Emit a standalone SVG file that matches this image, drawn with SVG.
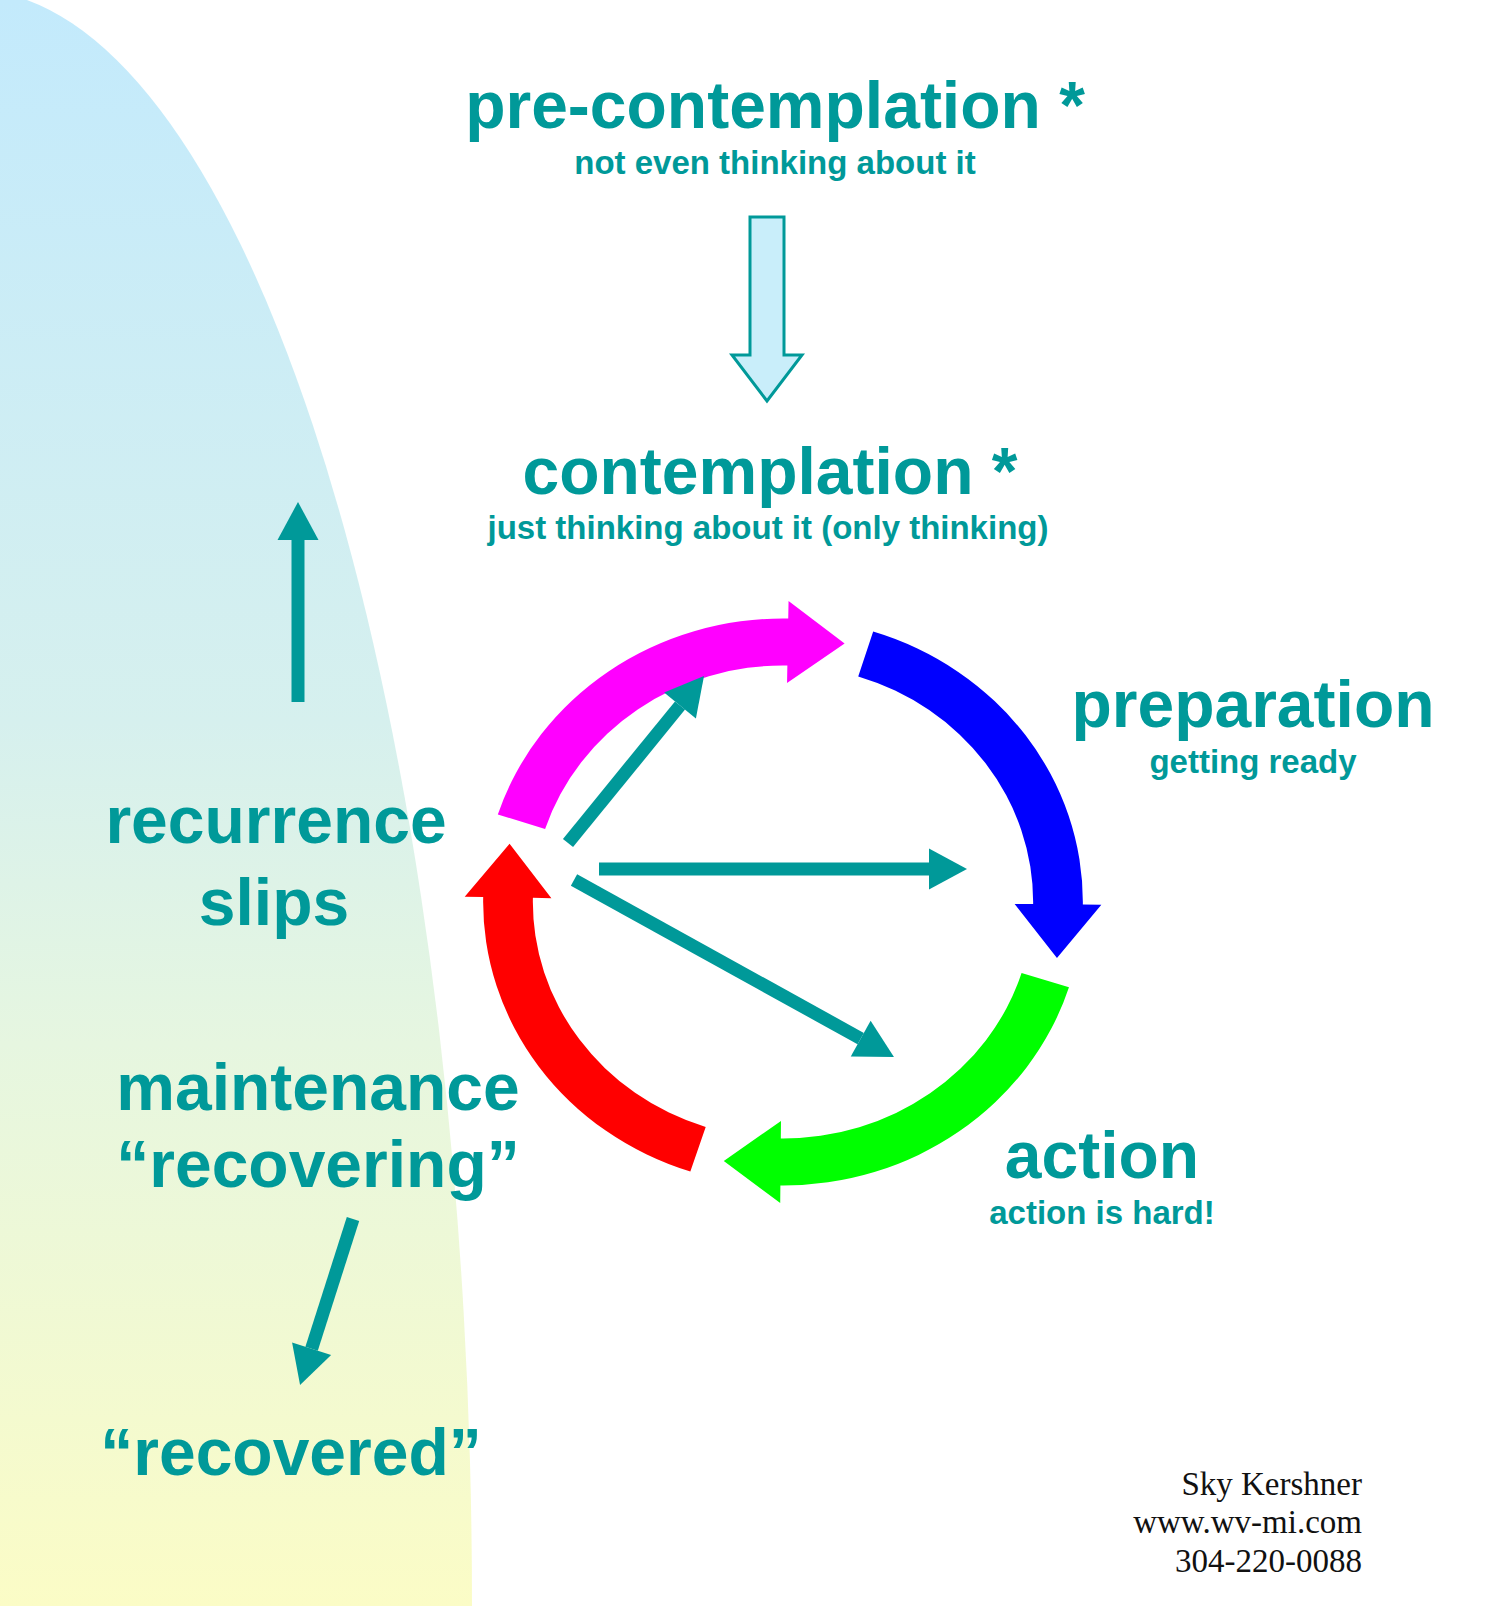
<svg xmlns="http://www.w3.org/2000/svg" xmlns:xlink="http://www.w3.org/1999/xlink" width="1500" height="1606" viewBox="0 0 1500 1606">
<defs>
<linearGradient id="bgGrad" x1="0" y1="0" x2="0" y2="1">
<stop offset="0" stop-color="#c3eafc"/>
<stop offset="0.45" stop-color="#d6f0ee"/>
<stop offset="0.65" stop-color="#e6f6e0"/>
<stop offset="1" stop-color="#fbfcc6"/>
</linearGradient>
<marker id="head" markerUnits="userSpaceOnUse" markerWidth="38" markerHeight="41" refX="0" refY="20.5" orient="auto" overflow="visible">
<path d="M0,0 L38,20.5 L0,41 Z" fill="#009999"/>
</marker>
<path id="ringArrow" d="M82.89,-271.11 A283.5,283.5 0 0 1 283.5,0 L301,0 L259.49,53.74 L219,0 L236.5,0 A236.5,236.5 0 0 0 69.15,-226.17 Z"/>
<style>
.big{font-family:"Liberation Sans",Arial,sans-serif;font-weight:bold;font-size:66px;fill:#009999;text-anchor:middle}
.small{font-family:"Liberation Sans",Arial,sans-serif;font-weight:bold;font-size:33px;fill:#009999;text-anchor:middle}
.credit{font-family:"Liberation Serif","Times New Roman",serif;font-size:33px;fill:#111111;text-anchor:end}
.conn{stroke:#009999;stroke-width:13;fill:none;marker-end:url(#head)}
</style>
</defs>
<rect x="0" y="0" width="1500" height="1606" fill="#ffffff"/>
<path id="background" d="M0,0 L27,0 A502,1616.5 0 0 1 472,1606 L0,1606 Z" fill="url(#bgGrad)"/>

<g id="precontemplation">
<text class="big" x="775" y="128">pre-contemplation *</text>
<text class="small" x="775" y="174">not even thinking about it</text>
</g>
<g id="contemplation">
<text class="big" x="770" y="494">contemplation *</text>
<text class="small" x="768" y="539">just thinking about it (only thinking)</text>
</g>
<g id="preparation">
<text class="big" x="1253" y="727">preparation</text>
<text class="small" x="1253" y="773">getting ready</text>
</g>
<g id="action">
<text class="big" x="1102" y="1178">action</text>
<text class="small" x="1102" y="1224">action is hard!</text>
</g>
<g id="recurrence">
<text class="big" x="276" y="843">recurrence</text>
<text class="big" x="274" y="925">slips</text>
</g>
<g id="maintenance">
<text class="big" x="318" y="1110">maintenance</text>
<text class="big" x="318" y="1187">“recovering”</text>
</g>
<g id="recovered">
<text class="big" x="291" y="1475">“recovered”</text>
</g>
<g id="credits">
<text class="credit" x="1362" y="1495">Sky Kershner</text>
<text class="credit" x="1362" y="1533">www.wv-mi.com</text>
<text class="credit" x="1362" y="1572">304-220-0088</text>
</g>

<g id="connectors">
<path id="hollow-arrow" d="M750,217 L784,217 L784,355 L802,355 L767,401 L732,355 L750,355 Z" fill="#c9eefa" stroke="#009999" stroke-width="3" stroke-linejoin="miter"/>
<g id="cycle">
<use xlink:href="#ringArrow" href="#ringArrow" fill="#ff00ff" transform="translate(783,902) scale(1.0577,1) rotate(271)"/>
<use xlink:href="#ringArrow" href="#ringArrow" fill="#0000ff" transform="translate(783,902) scale(1.0577,1) rotate(0.5)"/>
<use xlink:href="#ringArrow" href="#ringArrow" fill="#00ff00" transform="translate(783,902) scale(1.0577,1) rotate(90.5)"/>
<use xlink:href="#ringArrow" href="#ringArrow" fill="#ff0000" transform="translate(783,902) scale(1.0577,1) rotate(181)"/>
</g>
<line class="conn" x1="298" y1="702" x2="298" y2="540"/>
<line class="conn" x1="353" y1="1219" x2="311.6" y2="1348.8"/>
<line class="conn" x1="568" y1="843" x2="680" y2="705.5"/>
<line class="conn" x1="599" y1="869" x2="929" y2="869"/>
<line class="conn" x1="574" y1="880" x2="860.7" y2="1038.6"/>
</g>
</svg>
